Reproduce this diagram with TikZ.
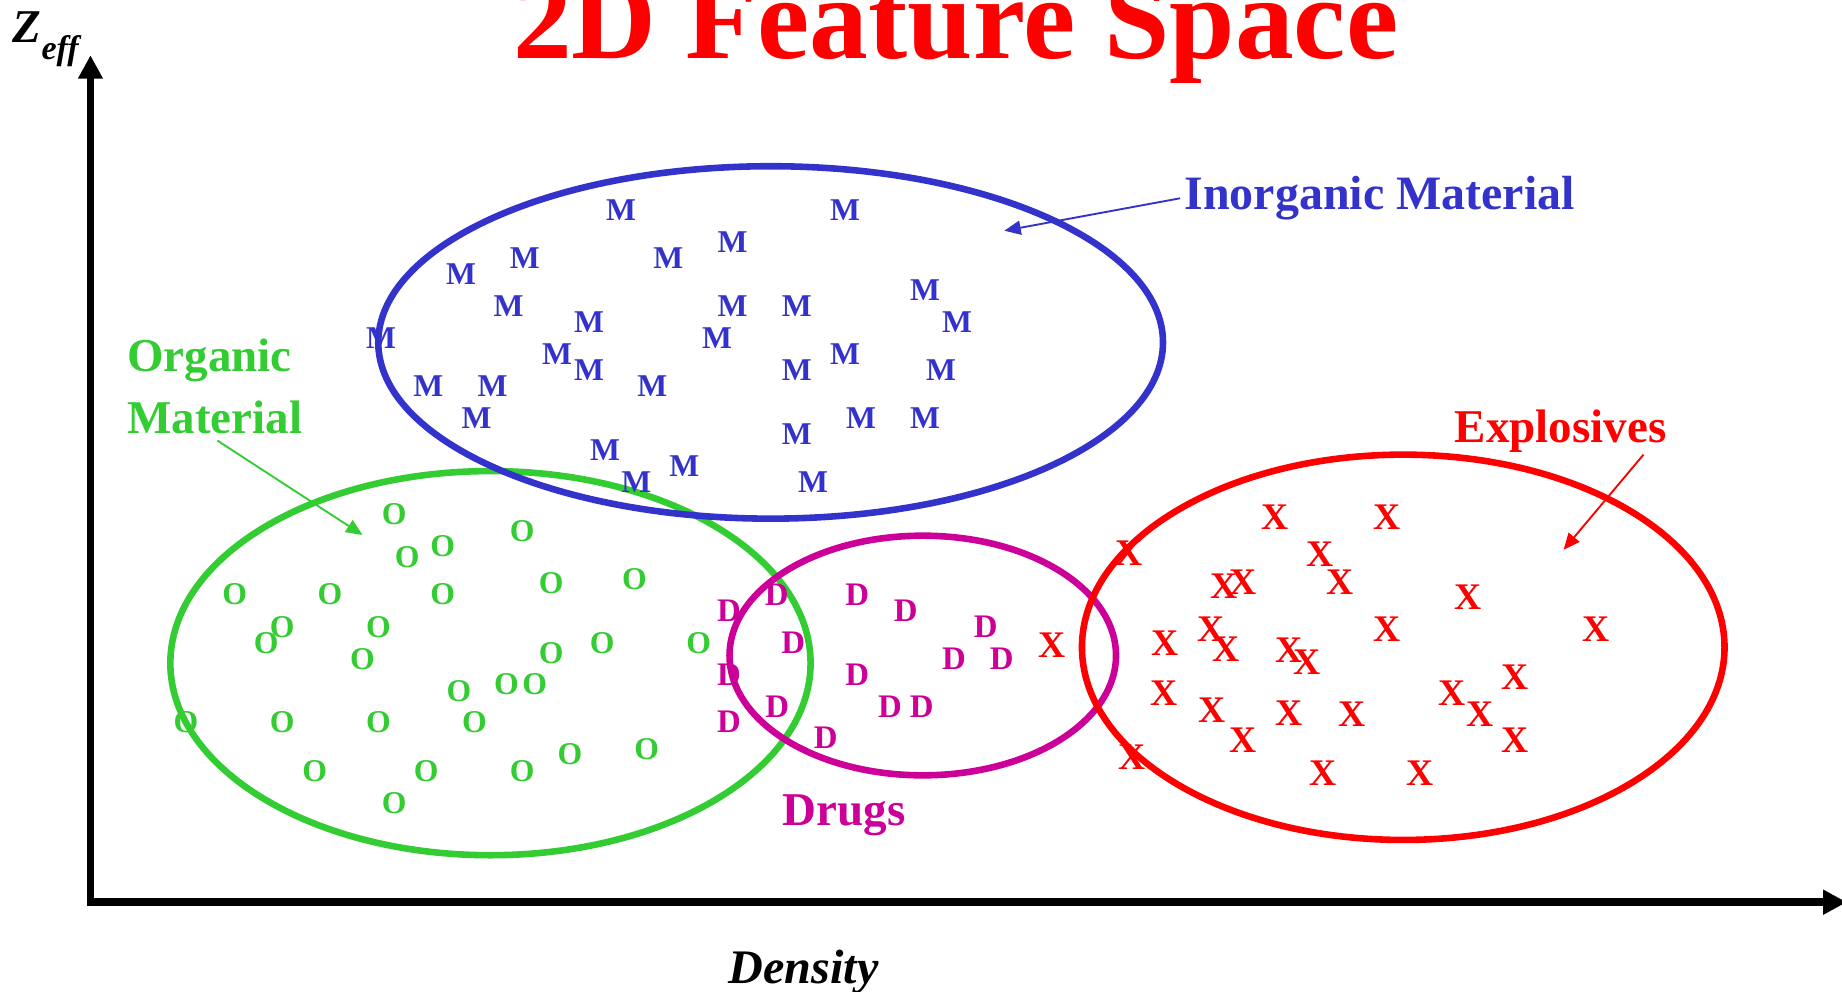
\documentclass[tikz,border=0pt]{standalone}
\usepackage{fontspec}
\setmainfont{Liberation Serif}
\usetikzlibrary{arrows.meta}

\definecolor{inorgblue}{RGB}{51,51,204}
\definecolor{orggreen}{RGB}{51,204,51}
\definecolor{drugmag}{RGB}{204,0,153}
\definecolor{explred}{RGB}{255,0,0}

\tikzset{
  axis/.style={line width=3.3pt, -{Triangle[length=10pt,width=10pt]}},
  cluster/.style={line width=2.8pt},
  pointer/.style={line width=0.8pt, -{Triangle[length=7pt,width=6pt]}},
  lbl/.style={inner sep=0pt, anchor=base west, font=\fontsize{20}{24}\selectfont\bfseries},
  mpt/.style={inner sep=0pt, text=inorgblue, font=\fontsize{13.5}{16}\selectfont\bfseries},
  opt/.style={inner sep=0pt, text=orggreen, font=\fontsize{13.5}{16}\selectfont\bfseries},
  dpt/.style={inner sep=0pt, text=drugmag, font=\fontsize{14}{16}\selectfont\bfseries},
  xpt/.style={inner sep=0pt, text=explred, font=\fontsize{16}{18}\selectfont\bfseries},
}

\begin{document}
\begin{tikzpicture}[x=0.5pt, y=-0.5pt]
\useasboundingbox (0,0) rectangle (1568,844);

% title
\node[inner sep=0pt, anchor=base, text=explred, font=\fontsize{50}{60}\selectfont\bfseries]
  (title) at (813.5,50) {2D Feature Space};

% axes
\coordinate (origin) at (77,768);
\coordinate (ytip) at (77,47);
\coordinate (xtip) at (1572,768);
\draw[axis] (origin) -- (ytip);
\draw[axis] ([xshift=-1.6pt]origin) -- (xtip);

\node[inner sep=0pt, anchor=base west, font=\fontsize{20}{24}\selectfont\bfseries\itshape]
  (zlab) at (10,36.5) {Z};
\node[inner sep=0pt, anchor=base west, font=\fontsize{14.5}{17}\selectfont\bfseries\itshape]
  (zsub) at (35,51) {eff};
\node[inner sep=0pt, anchor=base west, font=\fontsize{20.5}{24}\selectfont\bfseries\itshape]
  (xlab) at (620,837) {Density};

% class regions
\draw[cluster, orggreen] (417.5,564.5) ellipse [x radius=136.25pt, y radius=81.75pt];
\draw[cluster, drugmag] (785.5,558) ellipse [x radius=82.25pt, y radius=51pt];
\draw[cluster, explred] (1194.5,551) ellipse [x radius=136.75pt, y radius=82pt];
\draw[cluster, inorgblue] (656,291.5) ellipse [x radius=167pt, y radius=75pt];

% inorganic samples
\foreach \px/\py [count=\i] in {
  528.8/178.8, 719.4/178.8, 623.6/205.7, 446.7/219.9, 568.9/219.9,
  392.4/233.3, 433/260.5, 623.6/260.5, 678.4/260.5, 787.4/246.9,
  501.4/274.4, 814.7/274.4, 324.5/288, 610.4/288, 474.2/301.6,
  501.4/315, 719.4/301.6, 678.4/315, 801/315, 364.7/328.6,
  419.4/328.6, 555.3/328.6, 405.7/356.1, 733.1/356.1, 787.4/356.1,
  678.4/369.7, 515.1/383.1, 582.6/396.7, 541.6/410, 692.1/410}
  \node[mpt] (m\i) at (\px,\py) {M};

% organic samples
\foreach \px/\py [count=\i] in {
  335.5/437.8, 444.5/451.8, 376.9/464.8, 346.6/473.9, 199.7/505.9,
  280.9/505.9, 376.9/505.9, 469.2/496, 540/492.9, 240.3/533.5,
  226.6/547.1, 322.2/533.5, 308.6/561, 469.2/555.6, 512.7/547.1,
  594.7/547.1, 390.6/588, 431.2/582.5, 455.2/582.5, 158.3/614.9,
  240.3/614.9, 322.2/614.9, 403.8/614.9, 268/656.1, 362.8/656.1,
  444.5/656.1, 485.1/642.1, 550.4/637.9, 335.5/683.3}
  \node[opt] (o\i) at (\px,\py) {O};

% drug samples
\foreach \px/\py [count=\i] in {
  620.6/519.9, 661.2/506.5, 729.8/505.9, 771/519.9, 839.1/533.5,
  675.3/547.1, 812.1/560.4, 852.7/560.4, 620.6/574, 729.8/574,
  661.7/601.6, 757.6/601.6, 784.6/601.6, 620.6/614.4, 702.9/628}
  \node[dpt] (d\i) at (\px,\py) {D};

% explosive samples
\foreach \px/\py [count=\i] in {
  961.4/471, 1085.8/440.4, 1181.1/440.4, 1123.8/471.6, 1041.9/498.9,
  1058.2/495.2, 1140.5/495.2, 1249.3/508.5, 1030.8/535.7, 991.7/547.6,
  1043.8/552.7, 1181.1/535.7, 1358.3/535.7, 1096.9/553.3, 1112.8/563.3,
  991/590.2, 1031.6/604.4, 1097.3/607.2, 1150.8/607.8, 1235.7/590.2,
  1259.7/607.8, 1290/576.1, 1058.5/630.5, 1290/630.5, 963.3/644.2,
  1126.4/657.8, 1208.8/657.8, 895.3/549.6}
  \node[xpt] (x\i) at (\px,\py) {X};

% class labels
\node[lbl, text=inorgblue, font=\fontsize{20.4}{24}\selectfont\bfseries] (inorg) at (1008,178) {Inorganic Material};
\node[lbl, text=orggreen] (org1) at (108,316) {Organic};
\node[lbl, text=orggreen] (org2) at (108,369) {Material};
\node[lbl, text=explred] (expl) at (1238,377) {Explosives};
\node[lbl, text=drugmag] (drugs) at (666,703) {Drugs};

% label pointers
\coordinate (inorgTail) at (1004.5,168.8);
\coordinate (inorgTip) at (854.9,196.4);
\coordinate (orgTail) at (185,375);
\coordinate (orgTip) at (308.6,455.4);
\coordinate (explTail) at (1399,387);
\coordinate (explTip) at (1331,468);
\draw[pointer, inorgblue] (inorgTail) -- (inorgTip);
\draw[pointer, orggreen] (orgTail) -- (orgTip);
\draw[pointer, explred] (explTail) -- (explTip);
\end{tikzpicture}
\end{document}
